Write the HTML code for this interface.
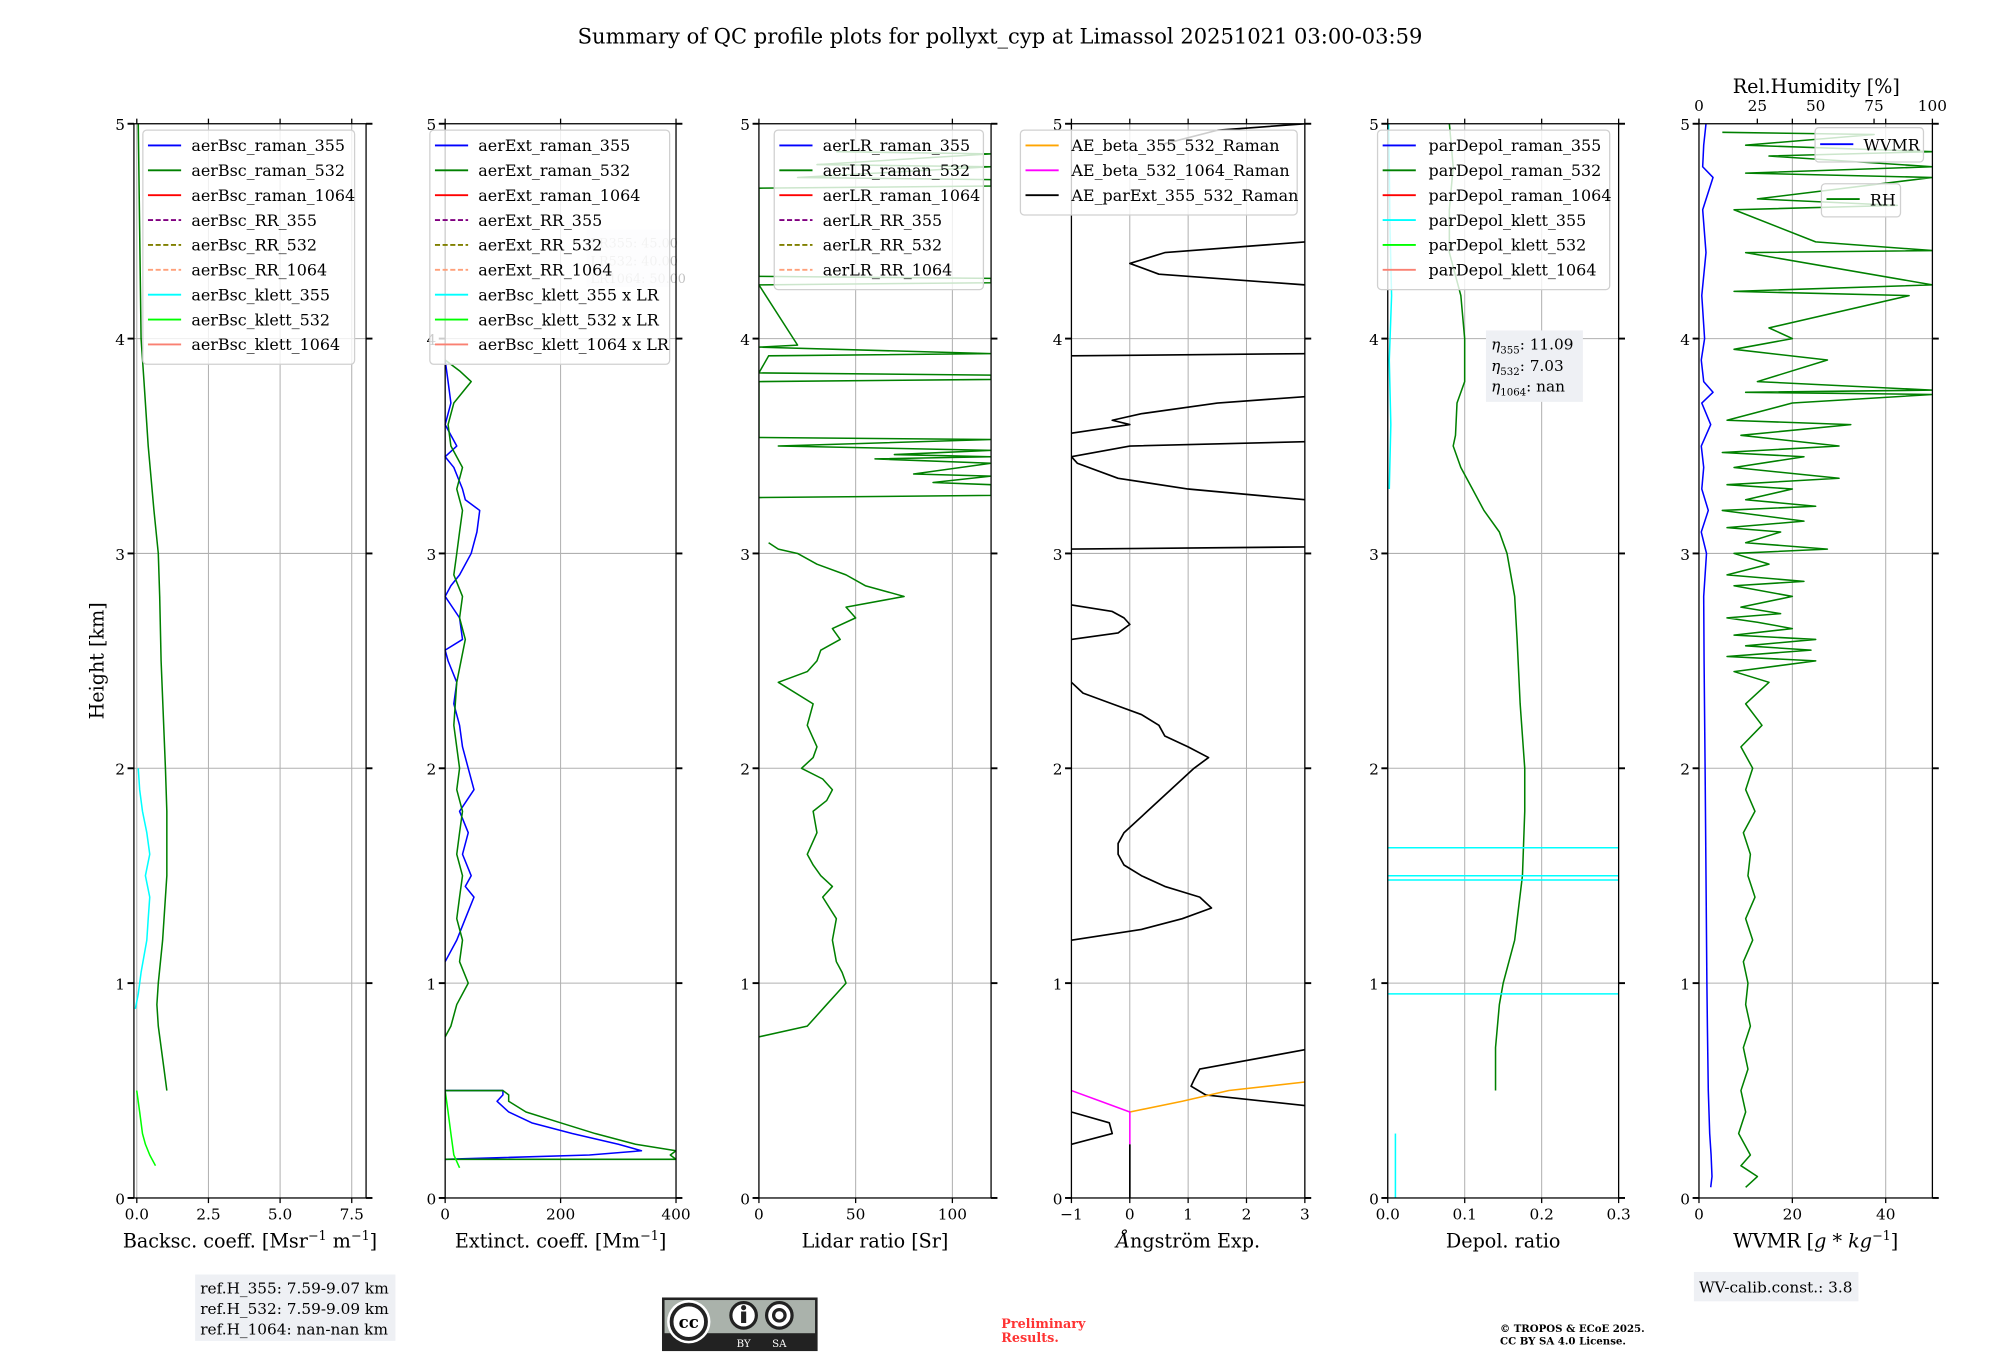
<!DOCTYPE html>
<html><head><meta charset="utf-8"><style>
html,body{margin:0;padding:0;background:#fff}
svg{display:block}
text{font-family:"DejaVu Serif","Liberation Serif",serif;fill:#000}
</style></head><body>
<svg id="fig" width="2000" height="1360" viewBox="0 0 1568 1066" preserveAspectRatio="none" xmlns="http://www.w3.org/2000/svg">
<text x="784" y="34" font-size="16.5" text-anchor="middle">Summary of QC profile plots for pollyxt_cyp at Limassol 20251021 03:00-03:59</text>
<text transform="translate(81,518) rotate(-90)" font-size="15" text-anchor="middle">Height [km]</text>
<g id="plots"></g>
<g>
<rect x="153" y="999" width="157" height="52" fill="#eef0f4"/>
<text x="157" y="1014" font-size="12">ref.H_355: 7.59-9.07 km</text>
<text x="157" y="1030" font-size="12">ref.H_532: 7.59-9.09 km</text>
<text x="157" y="1046" font-size="12">ref.H_1064: nan-nan km</text>
</g>
<g>
<rect x="1328" y="997" width="129" height="23" fill="#eef0f4"/>
<text x="1332" y="1013" font-size="12">WV-calib.const.: 3.8</text>
</g>
<g>
<rect x="519" y="1017" width="122" height="42" fill="#222"/>
<rect x="521" y="1019" width="118" height="26" fill="#aab2ab"/>
<circle cx="540" cy="1036" r="17" fill="#fff"/><circle cx="540" cy="1036" r="13.5" fill="#fff" stroke="#222" stroke-width="3"/>
<text x="540" y="1041" font-size="13" font-weight="bold" text-anchor="middle" font-family="Liberation Sans">cc</text>
<circle cx="583" cy="1031" r="10" fill="#fff" stroke="#222" stroke-width="2.5"/>
<rect x="581" y="1028" width="4" height="9" fill="#222"/><circle cx="583" cy="1025" r="2" fill="#222"/>
<circle cx="611" cy="1031" r="10" fill="#fff" stroke="#222" stroke-width="2.5"/>
<circle cx="611" cy="1031" r="4.5" fill="none" stroke="#222" stroke-width="2.5"/>
<text x="583" y="1056" font-size="8" style="fill:#fff" text-anchor="middle" font-family="Liberation Sans">BY</text>
<text x="611" y="1056" font-size="8" style="fill:#fff" text-anchor="middle" font-family="Liberation Sans">SA</text>
</g>
<text x="785" y="1041" font-size="10" font-weight="bold" style="fill:#ff3333">Preliminary</text>
<text x="785" y="1052" font-size="10" font-weight="bold" style="fill:#ff3333">Results.</text>
<text x="1176" y="1044" font-size="8" font-weight="bold">© TROPOS &amp; ECoE 2025.</text>
<text x="1176" y="1054" font-size="8" font-weight="bold">CC BY SA 4.0 License.</text>
</svg>
<script>
// ---- data ----
const bscH532=[0.5,0.6,0.8,0.9,1.0,1.2,1.5,1.8,2.0,2.5,2.8,3.0,3.2,3.5,3.8,4.0,4.5,5.0];
const bscV532=[1.05,0.95,0.75,0.7,0.75,0.9,1.05,1.05,1.0,0.85,0.8,0.75,0.6,0.4,0.25,0.15,0.1,0.05];
const bscKH355=[0.88,0.95,1.05,1.2,1.3,1.4,1.5,1.6,1.7,1.8,1.9,2.0];
const bscKV355=[-0.05,0.05,0.15,0.35,0.4,0.45,0.3,0.45,0.35,0.2,0.1,0.05];
const bscKH532=[0.15,0.2,0.25,0.3,0.4,0.5];
const bscKV532=[0.65,0.45,0.3,0.2,0.1,0.0];

const extH355=[0.18,0.2,0.22,0.25,0.3,0.35,0.4,0.45,0.48,0.5,0.5];
const extV355=[0,250,340,300,220,150,110,90,100,100,0];
const extH355b=[1.1,1.2,1.3,1.4,1.45,1.5,1.6,1.7,1.8,1.9,2.0,2.1,2.2,2.3,2.4,2.5,2.55,2.6,2.7,2.8,2.85,2.9,3.0,3.1,3.2,3.25,3.3,3.4,3.45,3.5,3.6,3.7,3.8,3.9];
const extV355b=[0,20,35,50,35,45,30,40,25,50,40,30,25,15,20,5,0,30,25,0,10,25,45,55,60,35,30,15,0,20,0,10,5,0];
const extH532=[0.18,0.18,0.2,0.22,0.25,0.3,0.35,0.4,0.45,0.48,0.5,0.5];
const extV532=[0,400,390,400,330,260,200,140,110,110,100,0];
const extH532b=[0.75,0.8,0.9,1.0,1.1,1.2,1.3,1.4,1.5,1.6,1.7,1.8,1.9,2.0,2.2,2.4,2.6,2.7,2.8,2.9,3.0,3.1,3.2,3.3,3.4,3.5,3.6,3.7,3.8,3.85,3.9];
const extV532b=[0,10,20,40,25,30,20,25,30,20,25,30,20,25,15,20,35,25,30,15,20,25,30,20,30,10,5,15,45,25,0];
const extKH532=[0.14,0.2,0.3,0.4,0.5];
const extKV532=[25,15,10,5,0];

const lrH=[0.75,0.8,0.85,0.9,0.95,1.0,1.05,1.1,1.2,1.3,1.4,1.45,1.5,1.55,1.6,1.7,1.8,1.85,1.9,1.95,2.0,2.05,2.1,2.2,2.3,2.4,2.45,2.5,2.55,2.6,2.65,2.7,2.75,2.8,2.85,2.9,2.95,3.0,3.02,3.05];
const lrV=[0,25,30,35,40,45,43,40,38,40,33,38,32,28,25,30,28,35,38,33,22,28,30,25,28,10,25,30,32,42,38,50,45,75,55,45,30,20,10,5];
const lrSpikeH=[3.26,3.27,3.32,3.33,3.36,3.37,3.42,3.44,3.45,3.46,3.48,3.5,3.53,3.54,3.80,3.81,3.83,3.84,3.92,3.93,3.96,3.97,4.25,4.26,4.28,4.29,4.70,4.71,4.74,4.75,4.80,4.81,4.86,4.87];
const lrSpikeV=[0,120,120,90,120,80,120,60,120,70,120,10,120,0,0,120,120,0,5,120,0,20,0,120,120,0,0,120,120,20,120,30,120,40];

const aeH1=[1.2,1.25,1.3,1.35,1.4,1.45,1.5,1.55,1.6,1.65,1.7,1.8,1.9,2.0,2.05,2.1,2.15,2.2,2.25,2.3,2.35,2.4];
const aeV1=[-1,0.2,0.9,1.4,1.2,0.6,0.2,-0.1,-0.2,-0.2,-0.1,0.3,0.7,1.1,1.35,1.0,0.6,0.5,0.2,-0.3,-0.8,-1];
const aeH2=[2.6,2.63,2.67,2.7,2.73,2.76];
const aeV2=[-1,-0.2,0,-0.1,-0.3,-1];
const aeH3=[3.25,3.3,3.35,3.42,3.45,3.5,3.52];
const aeV3=[3,1.0,-0.2,-0.9,-1,0,3];
const aeH4=[3.56,3.6,3.62,3.65,3.7,3.73];
const aeV4=[-1,0.0,-0.3,0.2,1.5,3];
const aeH5=[3.02,3.03];
const aeV5=[-1,3];
const aeH6=[3.92,3.93];
const aeV6=[-1,3];
const aeH7=[4.25,4.3,4.35,4.4,4.45];
const aeV7=[3,0.5,0,0.6,3];
const aeH8=[0.43,0.48,0.52,0.55,0.6,0.69];
const aeV8=[3,1.3,1.05,1.1,1.2,3];
const aeH9=[0.25,0.3,0.35,0.4];
const aeV9=[-1,-0.3,-0.35,-1];
const aeH10=[4.9,4.97,5.0];
const aeV10=[0.5,1.5,3];
const aeOrH=[0.4,0.45,0.5,0.54];
const aeOrV=[0,0.9,1.7,3];
const aeMgH=[0.25,0.4,0.45,0.5];
const aeMgV=[0,0,-0.5,-1];

const dpH=[0.5,0.7,0.9,1.0,1.2,1.5,1.8,2.0,2.3,2.6,2.8,3.0,3.1,3.2,3.3,3.4,3.5,3.55,3.7,3.8,4.0,4.2,4.4,4.6,4.8,5.0];
const dpV=[0.14,0.14,0.145,0.15,0.165,0.175,0.178,0.178,0.172,0.168,0.165,0.155,0.145,0.125,0.11,0.095,0.085,0.088,0.09,0.1,0.1,0.095,0.08,0.08,0.085,0.08];
const dpKH=[3.3,3.6,3.9,4.2,4.5,4.8,5.0];
const dpKV=[0.002,0.004,0.002,0.005,0.003,0.002,0.001];
const dpLines=[0.95,1.48,1.5,1.63];

const wvH=[0.05,0.1,0.2,0.3,0.5,0.8,1.0,1.5,2.0,2.5,2.8,3.0,3.1,3.2,3.3,3.4,3.5,3.6,3.7,3.75,3.8,3.9,4.0,4.2,4.4,4.6,4.75,4.8,4.9,5.0];
const wvV=[2.5,2.8,2.6,2.3,2.0,1.8,1.7,1.5,1.3,1.1,1.0,1.6,0.5,2.0,0.6,1.0,0.5,2.5,0.6,3.0,1.0,0.5,1.2,0.6,1.5,0.8,3.0,0.8,1.0,1.5];
const rhH=[0.05,0.1,0.15,0.2,0.3,0.4,0.5,0.6,0.7,0.8,0.9,1.0,1.1,1.2,1.3,1.4,1.5,1.6,1.7,1.8,1.9,2.0,2.1,2.2,2.3,2.4,2.45,2.5,2.52,2.55,2.57,2.6,2.62,2.65,2.68,2.7,2.72,2.75,2.8,2.85,2.87,2.9,2.95,3.0,3.02,3.05,3.1,3.12,3.15,3.2,3.22,3.25,3.3,3.32,3.35,3.4,3.45,3.47,3.5,3.55,3.6,3.62,3.7,3.74,3.75,3.76,3.8,3.9,3.95,4.0,4.05,4.2,4.22,4.25,4.4,4.41,4.45,4.6,4.62,4.65,4.75,4.77,4.8,4.85,4.87,4.9,4.95,4.96];
const rhV=[20,25,18,22,17,20,18,21,19,22,20,21,19,23,20,24,21,22,19,24,20,23,18,27,20,30,15,50,12,48,20,50,15,40,25,12,35,18,40,15,45,12,30,15,55,20,35,12,45,10,50,20,40,12,60,15,45,10,60,18,65,12,40,100,20,100,25,55,15,40,30,90,15,100,20,100,50,15,85,25,100,20,100,30,100,20,75,10];

// ---- drawing ----
const NS='http://www.w3.org/2000/svg';
const root=document.getElementById('plots');
const Y0=939,Y5=97;
function sy(h){return Y0+(Y5-Y0)*h/5;}
function mk(tag,attrs,parent){const e=document.createElementNS(NS,tag);for(const k in attrs)e.setAttribute(k,attrs[k]);(parent||root).appendChild(e);return e;}
function panel(name,x0,x1,vmin,vmax){
  const g=mk('g',{});
  
  
  return {g,x0,x1,sx:v=>x0+(x1-x0)*(v-vmin)/(vmax-vmin)};
}
function line(p,hs,vs,color,w,name,dash){
  const pts=hs.map((h,i)=>p.sx(vs[i]).toFixed(1)+','+sy(h).toFixed(1)).join(' ');
  const e=mk('polyline',{points:pts,fill:'none',stroke:color,'stroke-width':w||1.2,'stroke-linejoin':'round'},p.g);
  if(dash)e.setAttribute('stroke-dasharray',dash);
  
  
  return e;
}
function axes(p,ticks,labels,xlabel){
  const c=mk('clipPath',{id:'clip'+p.x0},p.g);
  mk('rect',{x:p.x0,y:Y5,width:p.x1-p.x0,height:Y0-Y5},c);
  ticks.forEach((t,i)=>{
    const x=p.sx(t);
    mk('line',{x1:x,x2:x,y1:Y5,y2:Y0,stroke:'#b0b0b0','stroke-width':0.8},p.g);
    mk('line',{x1:x,x2:x,y1:Y0,y2:Y0+4,stroke:'#000','stroke-width':1},p.g);
    mk('line',{x1:x,x2:x,y1:Y5,y2:Y5-4,stroke:'#000','stroke-width':1},p.g);
    const tl=mk('text',{x:x,y:Y0+17,'font-size':12,'text-anchor':'middle'},p.g);
    tl.textContent=labels[i];
    
    
  });
  for(let h=1;h<5;h++) mk('line',{x1:p.x0,x2:p.x1,y1:sy(h),y2:sy(h),stroke:'#b0b0b0','stroke-width':0.8},p.g);
  for(let h=0;h<=5;h++){
    const y=sy(h);
    mk('line',{x1:p.x0-5,x2:p.x0,y1:y,y2:y,stroke:'#000','stroke-width':1.5},p.g);
    mk('line',{x1:p.x1,x2:p.x1+5,y1:y,y2:y,stroke:'#000','stroke-width':1.5},p.g);
    const tl=mk('text',{x:p.x0-7,y:y+5,'font-size':12,'text-anchor':'end'},p.g);
    tl.textContent=h;
    
    
  }
  const xl=mk('text',{x:(p.x0+p.x1)/2,y:Y0+39,'font-size':15,'text-anchor':'middle'},p.g);
  xl.innerHTML=xlabel;
  
  
  return 'url(#clip'+p.x0+')';
}
function frame(p){mk('rect',{x:p.x0,y:Y5,width:p.x1-p.x0,height:Y0-Y5,fill:'none',stroke:'#000','stroke-width':1},p.g);}
function legend(p,x,y,w,items,tx){
  const lg=mk('g',{},p.g);
  
  
  mk('rect',{x:x,y:y,width:w,height:items.length*19.5+8,rx:3,fill:'#fff','fill-opacity':0.8,stroke:'#d0d0d0'},lg);
  items.forEach((it,i)=>{
    const yy=y+12+i*19.5;
    const l=mk('line',{x1:x+4,x2:x+30,y1:yy,y2:yy,stroke:it[1],'stroke-width':1.5},lg);
    if(it[2])l.setAttribute('stroke-dasharray','4,2');
    const t=mk('text',{x:x+(tx||38),y:yy+4.5,'font-size':12.5},lg);
    t.textContent=it[0];
    
    
  });
}
const bscItems=[['aerBsc_raman_355','blue'],['aerBsc_raman_532','green'],['aerBsc_raman_1064','red'],['aerBsc_RR_355','purple',1],['aerBsc_RR_532','olive',1],['aerBsc_RR_1064','#ffa07a',1],['aerBsc_klett_355','cyan'],['aerBsc_klett_532','lime'],['aerBsc_klett_1064','salmon']];

// Panel 1
let p=panel('backscatter-panel',105,287,-0.1,8);
let cl=axes(p,[0,2.5,5,7.5],['0.0','2.5','5.0','7.5'],'Backsc. coeff. [Msr<tspan dy="-6" font-size="10">−1</tspan><tspan dy="6"> m</tspan><tspan dy="-6" font-size="10">−1</tspan><tspan dy="6">]</tspan>');
line(p,bscH532,bscV532,'green',1.2,'aerBsc-raman-532-line').setAttribute('clip-path',cl);
line(p,bscKH355,bscKV355,'cyan',1.2,'aerBsc-klett-355-line');
line(p,bscKH532,bscKV532,'lime',1.2,'aerBsc-klett-532-line');
frame(p);
legend(p,112,102,166,bscItems);

// Panel 2
p=panel('extinction-panel',349,530,0,400);
cl=axes(p,[0,200,400],['0','200','400'],'Extinct. coeff. [Mm<tspan dy="-6" font-size="10">−1</tspan><tspan dy="6">]</tspan>');
line(p,extH355,extV355,'blue',1.2,'aerExt-raman-355-line');
line(p,extH355b,extV355b,'blue',1.2,'aerExt-raman-355-upper-line');
line(p,extH532,extV532,'green',1.2,'aerExt-raman-532-line').setAttribute('clip-path',cl);
line(p,extH532b,extV532b,'green',1.2,'aerExt-raman-532-upper-line');
line(p,extKH532,extKV532,'lime',1.2,'aerBsc-klett-532-x-lr-line');
frame(p);
const lrb=mk('g',{'font-size':10,opacity:0.25},p.g);


mk('rect',{x:460,y:180,width:65,height:45,fill:'#dde'},lrb);
[['LR355: 45.00',194],['LR532: 40.00',208],['LR1064: 50.00',222]].forEach(a=>{const t=mk('text',{x:463,y:a[1],'font-size':10},lrb);t.textContent=a[0];});
legend(p,337,102,188,bscItems.map((it,i)=>[['aerExt_raman_355','aerExt_raman_532','aerExt_raman_1064','aerExt_RR_355','aerExt_RR_532','aerExt_RR_1064','aerBsc_klett_355 x LR','aerBsc_klett_532 x LR','aerBsc_klett_1064 x LR'][i],it[1],it[2]]));

// Panel 3
p=panel('lidar-ratio-panel',595,777,0,120);
cl=axes(p,[0,50,100],['0','50','100'],'Lidar ratio [Sr]');
line(p,lrH,lrV,'green',1.2,'aerLR-raman-532-line');
line(p,lrSpikeH,lrSpikeV,'green',1.2,'aerLR-raman-532-spikes').setAttribute('clip-path',cl);
frame(p);
legend(p,607,102,164,[['aerLR_raman_355','blue'],['aerLR_raman_532','green'],['aerLR_raman_1064','red'],['aerLR_RR_355','purple',1],['aerLR_RR_532','olive',1],['aerLR_RR_1064','#ffa07a',1]]);

// Panel 4
p=panel('angstrom-panel',840,1023,-1,3);
cl=axes(p,[-1,0,1,2,3],['−1','0','1','2','3'],'<tspan font-style="italic">Å</tspan>ngström Exp.');
[[aeH1,aeV1],[aeH2,aeV2],[aeH3,aeV3],[aeH4,aeV4],[aeH5,aeV5],[aeH6,aeV6],[aeH7,aeV7],[aeH8,aeV8],[aeH9,aeV9],[aeH10,aeV10]].forEach(s=>line(p,s[0],s[1],'black',1.3,'ae-parext-355-532-line').setAttribute('clip-path',cl));
line(p,[0,0.25],[0,0],'black',1.3,'ae-parext-base-line');
line(p,aeOrH,aeOrV,'orange',1.2,'ae-beta-355-532-line');
line(p,aeMgH,aeMgV,'magenta',1.2,'ae-beta-532-1064-line');
frame(p);
legend(p,800,102,217,[['AE_beta_355_532_Raman','orange'],['AE_beta_532_1064_Raman','magenta'],['AE_parExt_355_532_Raman','black']],40);

// Panel 5
p=panel('depol-panel',1088,1269,0,0.3);
cl=axes(p,[0,0.1,0.2,0.3],['0.0','0.1','0.2','0.3'],'Depol. ratio');
line(p,dpH,dpV,'green',1.2,'parDepol-raman-532-line');
line(p,dpKH,dpKV,'cyan',1.2,'parDepol-klett-355-line');
line(p,[0,0.3],[0.01,0.01],'cyan',1.2,'parDepol-klett-355-bottom');
dpLines.forEach(h=>line(p,[h,h],[0,0.3],'cyan',1.2,'parDepol-klett-355-flat'));
frame(p);
legend(p,1080,102,182,[['parDepol_raman_355','blue'],['parDepol_raman_532','green'],['parDepol_raman_1064','red'],['parDepol_klett_355','cyan'],['parDepol_klett_532','lime'],['parDepol_klett_1064','salmon']],40);
const eb=mk('g',{},p.g);


mk('rect',{x:1165,y:259,width:76,height:56,fill:'#eef0f4'},eb);
[['η','355',': 11.09',274],['η','532',': 7.03',291],['η','1064',': nan',307]].forEach(a=>{const t=mk('text',{x:1169,y:a[3],'font-size':12},eb);t.innerHTML='<tspan font-style="italic">'+a[0]+'</tspan><tspan font-size="8" dy="3">'+a[1]+'</tspan><tspan dy="-3">'+a[2]+'</tspan>';});

// Panel 6
p=panel('wvmr-panel',1332,1515,0,50);
cl=axes(p,[0,20,40],['0','20','40'],'WVMR [<tspan font-style="italic">g</tspan> * <tspan font-style="italic">kg</tspan><tspan dy="-6" font-size="10">−1</tspan><tspan dy="6">]</tspan>');
const pr={g:p.g,sx:v=>1332+183*v/100};
[0,25,50,75,100].forEach(t=>{const x=pr.sx(t);mk('line',{x1:x,x2:x,y1:Y5-4,y2:Y5,stroke:'#000'},p.g);const tl=mk('text',{x:x,y:Y5-10,'font-size':12,'text-anchor':'middle'},p.g);tl.textContent=t;});
const rt=mk('text',{x:1424,y:73,'font-size':15,'text-anchor':'middle'},p.g);rt.textContent='Rel.Humidity [%]';


line(p,wvH,wvV,'blue',1.2,'wvmr-line').setAttribute('clip-path',cl);
line(pr,rhH,rhV,'green',1.2,'rh-line').setAttribute('clip-path',cl);
frame(p);
const l1=mk('g',{},p.g);
mk('rect',{x:1423,y:100,width:85,height:27,rx:3,fill:'#fff','fill-opacity':0.8,stroke:'#d0d0d0'},l1);
mk('line',{x1:1427,x2:1453,y1:113,y2:113,stroke:'blue','stroke-width':1.5},l1);
let t=mk('text',{x:1461,y:118,'font-size':12.5},l1);t.textContent='WVMR';
const l2=mk('g',{},p.g);
mk('rect',{x:1428,y:144,width:62,height:26,rx:3,fill:'#fff','fill-opacity':0.8,stroke:'#d0d0d0'},l2);
mk('line',{x1:1432,x2:1458,y1:156,y2:156,stroke:'green','stroke-width':1.5},l2);
t=mk('text',{x:1466,y:161,'font-size':12.5},l2);t.textContent='RH';
</script>
</body></html>
